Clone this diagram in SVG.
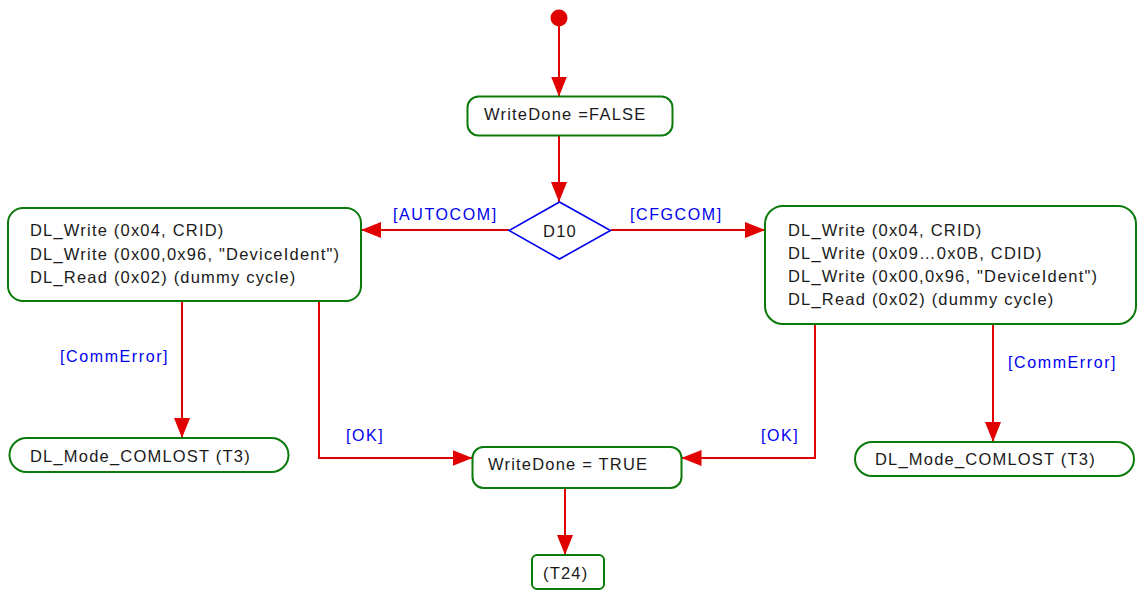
<svg xmlns="http://www.w3.org/2000/svg" width="1137" height="590" viewBox="0 0 1137 590">
<style>
.box{fill:#fff;stroke:#0a7a0a;stroke-width:2}
.dia{fill:#fff;stroke:#0000f0;stroke-width:1.6}
.t{font-family:"Liberation Sans",Arial,sans-serif;font-size:16.5px;letter-spacing:1.2px;fill:#1a1a1a}
.lb{font-family:"Liberation Sans",Arial,sans-serif;font-size:16px;letter-spacing:1.6px;fill:#0000ee}
.c{fill:none;stroke:#e00000;stroke-width:2;marker-end:url(#ah)}
</style>
<defs>
<marker id="ah" markerUnits="userSpaceOnUse" markerWidth="20" markerHeight="16" refX="20" refY="8" orient="auto">
<path d="M0,0 L20,8 L0,16 z" fill="#e00000"/>
</marker>
</defs>
<g id="connectors">
<path class="c" d="M559,26 L559,96.5"/>
<path class="c" d="M559,136 L559,202"/>
<path class="c" d="M509,230 L361,230"/>
<path class="c" d="M611,230 L765,230"/>
<path class="c" d="M182,301 L182,438"/>
<path class="c" d="M319,301 L319,458 L472.5,458"/>
<path class="c" d="M815,324 L815,458 L681.5,458"/>
<path class="c" d="M993,324 L993,442"/>
<path class="c" d="M565,488 L565,555"/>
<text class="lb" x="393" y="220">[AUTOCOM]</text>
<text class="lb" x="630" y="220">[CFGCOM]</text>
<text class="lb" x="60" y="362">[CommError]</text>
<text class="lb" x="346" y="441">[OK]</text>
<text class="lb" x="761" y="441">[OK]</text>
<text class="lb" x="1008" y="368">[CommError]</text>
</g>
<g id="start"><circle cx="559" cy="18" r="8.5" fill="#e00000"/></g>
<g id="writedone-false">
<rect class="box" x="467.5" y="96.5" width="205" height="39" rx="11"/>
<text class="t" x="484" y="120">WriteDone =FALSE</text>
</g>
<g id="d10">
<path class="dia" d="M559.5,202 L610.5,230.5 L559.5,259 L509,230.5 z"/>
<text class="t" x="560" y="237" text-anchor="middle">D10</text>
</g>
<g id="autocom">
<rect class="box" x="8" y="208" width="353" height="93" rx="15"/>
<text class="t" x="30" y="236">DL_Write (0x04, CRID)</text>
<text class="t" x="30" y="259.5">DL_Write (0x00,0x96, "DeviceIdent")</text>
<text class="t" x="30" y="283">DL_Read (0x02) (dummy cycle)</text>
</g>
<g id="cfgcom">
<rect class="box" x="765" y="206" width="371" height="118" rx="18"/>
<text class="t" x="788" y="236">DL_Write (0x04, CRID)</text>
<text class="t" x="788" y="259">DL_Write (0x09…0x0B, CDID)</text>
<text class="t" x="788" y="282">DL_Write (0x00,0x96, "DeviceIdent")</text>
<text class="t" x="788" y="305">DL_Read (0x02) (dummy cycle)</text>
</g>
<g id="comlost-left">
<rect class="box" x="9.5" y="438" width="279" height="34" rx="17"/>
<text class="t" x="30" y="462">DL_Mode_COMLOST (T3)</text>
</g>
<g id="writedone-true">
<rect class="box" x="472.5" y="447" width="209" height="41" rx="11"/>
<text class="t" x="488" y="470">WriteDone = TRUE</text>
</g>
<g id="comlost-right">
<rect class="box" x="855" y="442" width="279" height="34" rx="17"/>
<text class="t" x="875" y="465">DL_Mode_COMLOST (T3)</text>
</g>
<g id="t24">
<rect class="box" x="532" y="555" width="72" height="34" rx="5"/>
<text class="t" x="543" y="579">(T24)</text>
</g>
</svg>
